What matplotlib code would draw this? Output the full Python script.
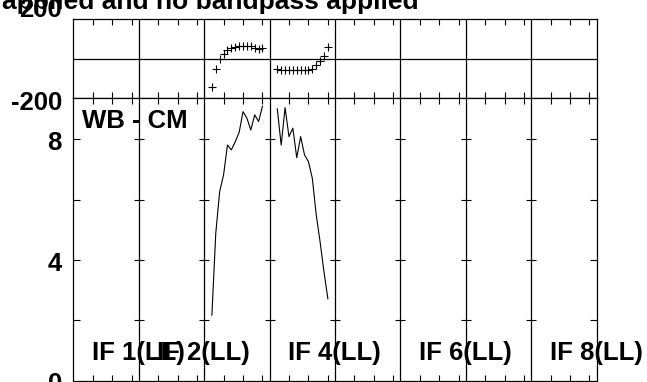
import matplotlib
matplotlib.use('Agg')
import matplotlib.pyplot as plt
import matplotlib.transforms as mtransforms
import numpy as np

plt.rcParams['font.family'] = ['Liberation Sans', 'DejaVu Sans']
plt.rcParams['font.weight'] = 'bold'

# data (AIPS POSSM-style, 8 IFs)
n_if = 8
if_width = 16.8          # channel units per IF slot
channels = np.arange(2, 16)
chan_ticks = [5, 10, 15]

if3_phase = [-143, -54, -3, 25, 44, 55, 60, 62, 63, 63, 63, 55, 50, 55]
if4_phase = [-54, -56, -57, -57, -57, -57, -57, -56, -55, -50, -32, -12, 12, 60]
if3_amp = [2.17, 4.89, 6.27, 6.82, 7.81, 7.65, 7.92, 8.23, 8.92, 8.70, 8.31, 8.81, 8.59, 9.10]
if4_amp = [9.01, 7.81, 9.05, 8.09, 8.37, 7.39, 8.09, 7.48, 7.26, 6.71, 5.5, 4.6, 3.6, 2.71]

phase_ticks = [-200, 200]
phase_labels = ['-200', '200']
amp_ticks = [0, 2, 4, 6, 8]
amp_labels = ['0', '', '4', '', '8']
if_label_ids = [1, 2, 4, 6, 8]
title = 'applied and no bandpass applied'
source = 'WB - CM'

fs = 18.5
W, H = 647, 382
fig = plt.figure(figsize=(W / 100, H / 100), dpi=100)

x0, x1 = 73.3, 596.5
ax_ph = fig.add_axes([x0 / W, 1 - 98.3 / H, (x1 - x0) / W, (98.3 - 19) / H])
ax_amp = fig.add_axes([x0 / W, 1 - 380.6 / H, (x1 - x0) / W, (380.6 - 98.3) / H])

bounds = np.arange(1, n_if) * if_width
xt = [k * if_width + c for k in range(n_if) for c in chan_ticks]

for ax in (ax_ph, ax_amp):
    ax.set_xlim(0, n_if * if_width)
    ax.set_xticks(xt)
    ax.set_xticklabels([])
    ax.tick_params(axis='x', direction='in', length=4.3, width=0.8,
                   top=True, bottom=True, labelbottom=False)
    for b in bounds:
        ax.axvline(b, color='black', lw=0.9)
    for s in ax.spines.values():
        s.set_linewidth(0.9)

# phase panel
ax_ph.set_ylim(-200, 200)
ax_ph.set_yticks([])
ax_ph.axhline(0, color='black', lw=0.9)
ax_ph.plot(2 * if_width + channels, if3_phase, ls='none', marker='+',
           ms=6, mew=0.8, color='black')
ax_ph.plot(3 * if_width + channels, if4_phase, ls='none', marker='+',
           ms=6, mew=0.8, color='black')

# amplitude panel
ax_amp.set_ylim(0, 9.36)
ax_amp.set_yticks(amp_ticks[1:])
ax_amp.set_yticklabels([])
ax_amp.tick_params(axis='y', direction='in', length=4.8, width=0.8,
                   left=True, right=True)
ax_amp.plot(2 * if_width + channels, if3_amp, color='black', lw=0.8)
ax_amp.plot(3 * if_width + channels, if4_amp, color='black', lw=0.8)
for b in bounds:
    ax_amp.plot([b] * 4, amp_ticks[1:], ls='none', marker='_', ms=7.5,
                mew=0.8, color='black')

# y labels
def ylab(ax, y, s, dy):
    tr = mtransforms.offset_copy(ax.get_yaxis_transform(), fig=fig,
                                 x=-11.5, y=dy, units='dots')
    ax.text(0, y, s, transform=tr, ha='right', va='baseline', fontsize=fs,
            fontweight='bold')

ylab(ax_ph, phase_ticks[1], phase_labels[1], 2.3)
ylab(ax_ph, phase_ticks[0], phase_labels[0], -11.7)
for v, s in zip(amp_ticks, amp_labels):
    if s:
        ylab(ax_amp, v, s, -10.7)

# IF labels
lab_off = 18.4 / ((x1 - x0) / n_if) * if_width
for i in if_label_ids:
    ax_amp.text((i - 1) * if_width + lab_off, 0.68, 'IF %d(LL)' % i,
                ha='left', va='baseline', fontsize=fs, fontweight='bold')

ax_amp.text(8.4 / ((x1 - x0) / n_if) * if_width, 8.36, source, ha='left',
            va='baseline', fontsize=fs, fontweight='bold')

fig.text(1.5 / W, 1 - 9 / H, title, ha='left', va='baseline', fontsize=19,
         fontweight='bold')

fig.savefig('out.png', dpi=100)
